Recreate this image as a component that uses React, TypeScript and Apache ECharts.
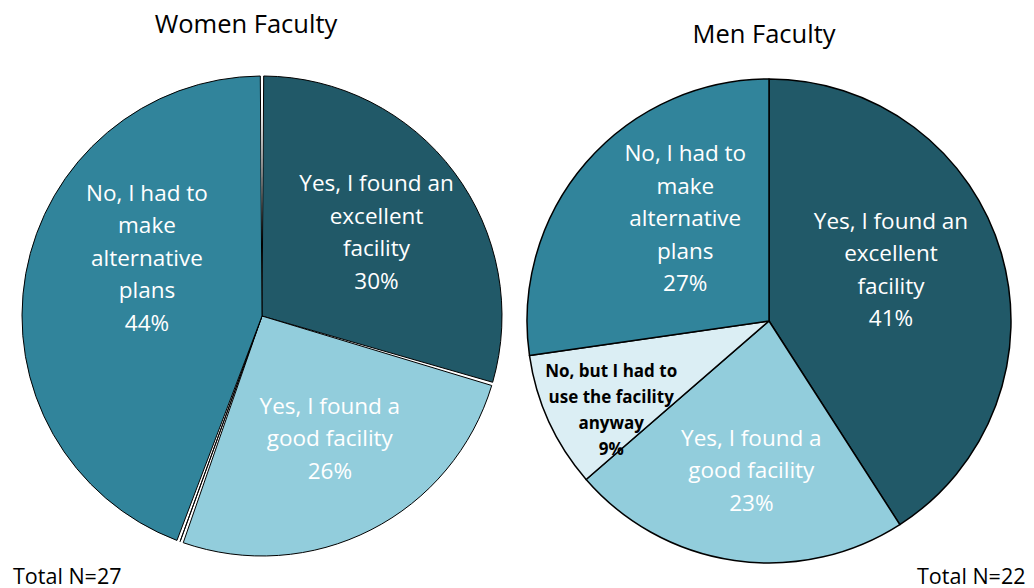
import React, { useEffect, useRef } from "react";
import * as echarts from "echarts";

const categories = [
  "Yes, I found an excellent facility",
  "Yes, I found a good facility",
  "No, but I had to use the facility anyway",
  "No, I had to make alternative plans",
];
const wrappedLabels = [
  "Yes, I found an\nexcellent\nfacility",
  "Yes, I found a\ngood facility",
  "No, but I had to\nuse the facility\nanyway",
  "No, I had to\nmake\nalternative\nplans",
];
const womenCounts = [8, 7, 0, 12];
const menCounts = [9, 5, 2, 6];
const titles = ["Women Faculty", "Men Faculty"];
const totals = ["Total N=27", "Total N=22"];

const colors = ["#215968", "#92CDDC", "#DBEEF4", "#31849B"];
const FONT = "'Open Sans', 'Noto Sans', sans-serif";

const womenOffsets = [[16, -11], [12, 12], [0, 0], [6, -37]];
const menOffsets = [[3, -17], [0, 26], [-45, 37], [10, -22]];

function buildSeries(counts: number[], center: number[], radius: number, offsets: number[][], women: boolean) {
  return {
    type: "pie",
    center,
    radius,
    startAngle: 90,
    clockwise: true,
    padAngle: women ? 0.8 : 0,
    percentPrecision: 0,
    silent: true,
    emphasis: { disabled: true },
    itemStyle: { borderColor: "#000", borderWidth: women ? 1 : 1.5 },
    labelLine: { show: false },
    label: {
      position: "inside",
      formatter: (p: any) => `${wrappedLabels[p.dataIndex]}\n${p.percent}%`,
      color: "#fff",
      fontSize: 22.5,
      lineHeight: 32.5,
      fontFamily: FONT,
    },
    data: categories.map((c, i) => ({
      name: c,
      value: counts[i],
      itemStyle: { color: colors[i] },
      label:
        i === 2
          ? {
              show: counts[i] > 0,
              offset: offsets[i],
              color: "#000",
              fontWeight: "bold",
              fontSize: 17,
              lineHeight: 26,
            }
          : { show: counts[i] > 0, offset: offsets[i] },
    })),
  };
}

export default function App() {
  const ref = useRef<HTMLDivElement>(null);
  useEffect(() => {
    if (!ref.current) return;
    const chart = echarts.init(ref.current, null, { renderer: "svg" });
    chart.setOption({
      animation: false,
      backgroundColor: "#fff",
      title: [
        { text: titles[0], left: 241, top: 5, textAlign: "center", textStyle: { fontFamily: FONT, fontSize: 25.5, fontWeight: "normal", color: "#000" } },
        { text: titles[1], left: 759, top: 15, textAlign: "center", textStyle: { fontFamily: FONT, fontSize: 25.5, fontWeight: "normal", color: "#000" } },
        { text: totals[0], left: 8, top: 559, textStyle: { fontFamily: FONT, fontSize: 21.5, fontWeight: "normal", color: "#000" } },
        { text: totals[1], left: 912, top: 559, textStyle: { fontFamily: FONT, fontSize: 21.5, fontWeight: "normal", color: "#000" } },
      ],
      series: [
        buildSeries(womenCounts, [262, 316], 240, womenOffsets, true),
        buildSeries(menCounts, [769, 321], 242, menOffsets, false),
      ],
    });
    return () => chart.dispose();
  }, []);
  return <div ref={ref} style={{ position: "fixed", left: 0, top: 0, width: 1034, height: 588 }} />;
}
